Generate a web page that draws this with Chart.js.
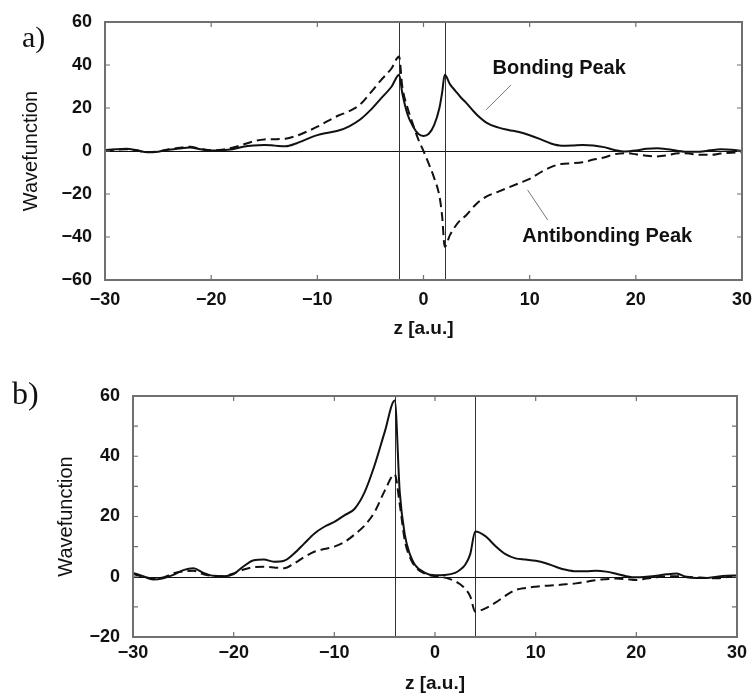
<!DOCTYPE html>
<html>
<head>
<meta charset="utf-8">
<script src="https://cdn.jsdelivr.net/npm/chart.js@4.4.0/dist/chart.umd.min.js"></script>
<style>
  html, body { margin: 0; padding: 0; background: #fff; overflow: hidden; }
  #wrap { position: relative; width: 754px; height: 693px; }
  canvas { position: absolute; left: 0; }
  .tag { position: absolute; font-family: "Liberation Serif", "Times New Roman", serif; color: #111; line-height: 1; }
</style>
</head>
<body>
<div id="wrap">
  <canvas id="chartA" width="754" height="345" style="top:0"></canvas>
  <canvas id="chartB" width="754" height="350" style="top:345px"></canvas>
  <div class="tag" style="left:22px;top:22px;font-size:30px">a)</div>
  <div class="tag" style="left:12px;top:377px;font-size:32px">b)</div>
</div>
<script>
// panel a) - z grid and the two wavefunctions
const zA = [-30, -29, -28, -27, -26, -25, -24, -23, -22, -21, -20, -19, -18, -17, -16, -15, -14, -13, -12, -11,
  -10, -9, -8, -7, -6, -5, -4, -3, -2.3, -2, -1.5, -1, -0.5, 0, 0.5, 1, 1.5, 1.75, 2, 2.5, 3, 3.5, 4, 5, 6, 7, 8, 9,
  10, 11, 12, 13, 14, 15, 16, 17, 18, 19, 20, 21, 22, 23, 24, 25, 26, 27, 28, 29, 30];
const bondA = [0.5, 0.8, 1.0, 0.3, -0.6, -0.3, 0.6, 1.2, 1.6, 0.8, 0.2, 0.3, 0.8, 2.0, 2.6, 2.8, 2.5, 2.2, 3.5, 5.5,
  7.4, 8.5, 9.5, 11.5, 14.5, 19, 24.5, 30, 35.5, 27, 17, 11.5, 8, 7, 8, 12, 20, 27, 35.5, 31, 28, 25, 22.5, 17, 13, 11, 9.8, 8.8,
  7.3, 5.5, 3.5, 2.5, 2.6, 2.8, 2.6, 1.8, 0.5, -0.2, 0.2, 1.0, 1.3, 0.8, 0, -0.4, -0.3, 0.3, 0.8, 0.6, 0];
const antiA = [0.3, 0.6, 0.8, 0.2, -0.5, -0.2, 0.8, 1.5, 2.0, 1.0, 0.3, 0.6, 1.5, 3.0, 4.5, 5.4, 5.5, 5.7, 7.0, 9.0,
  11.3, 14, 16.5, 18.5, 21.5, 27, 33, 38.5, 44, 30, 20, 12.5, 5.5, 0, -6, -12.5, -21, -30, -44.5, -39, -35, -32, -30, -24.5, -21, -19, -17, -15,
  -13, -10, -7.5, -6, -5.7, -5.2, -4, -3, -1.5, -1, -1.5, -2.2, -2.5, -2, -1, -1.2, -1.8, -1.8, -1.2, -0.8, -0.5];
const nucleiA = [-2.3, 2.0];

// panel b)
const zB = [-30, -29, -28, -27, -26, -25, -24, -23, -22, -21, -20, -19, -18, -17, -16, -15, -14, -13, -12, -11,
  -10, -9, -8, -7, -6, -5, -4, -3.5, -3, -2.5, -2, -1, 0, 1, 2, 2.5, 3, 3.5, 4, 5, 6, 7, 8, 9,
  10, 11, 12, 13, 14, 15, 16, 17, 18, 19, 20, 21, 22, 23, 24, 25, 26, 27, 28, 29, 30];
const bondB = [1.3, 0.2, -0.9, -0.5, 0.6, 2.2, 2.8, 1.3, 0.3, 0.2, 0.9, 3.5, 5.5, 5.7, 5.0, 5.3, 7.7, 11, 14.3, 16.6,
  18.2, 20.4, 22.5, 28, 37, 48, 58.5, 28, 14, 7.5, 4, 1.3, 0.5, 0.6, 1.3, 2.3, 4, 7.5, 15, 13.5, 10.2, 7.5, 6.1, 5.7,
  5.3, 4.5, 3.3, 2.3, 1.8, 1.8, 2.0, 1.7, 1.0, 0.2, -0.2, 0, 0.3, 0.8, 1.1, -0.2, -0.4, -0.4, 0, 0.3, 0.4];
const antiB = [0.9, 0, -0.6, -0.2, 1.1, 1.8, 2.0, 0.8, 0.3, 0.2, 1.1, 2.4, 3.2, 3.3, 3.1, 2.8, 4.4, 6.5, 8.3, 9.2,
  10, 11.5, 14, 17, 21.5, 28.5, 34, 24, 12, 6.5, 3.5, 1.0, 0.2, -0.3, -1.5, -2.5, -4, -6.5, -11.6, -10.5, -8.6, -6.3, -4.4, -3.7,
  -3.3, -3.0, -2.8, -2.5, -2.2, -1.7, -1.1, -0.8, -0.6, -0.8, -1.1, -0.6, -0.2, 0.1, 0.2, 0, -0.2, -0.4, -0.5, -0.1, 0.4];
const nucleiB = [-4, 4];

// labels with leader lines (data units)
const notesA = [
  { text: 'Bonding Peak', at: [6.5, 38.6], line: [[8.24, 30.7], [5.88, 19.1]] },
  { text: 'Antibonding Peak', at: [9.3, -39.8], line: [[9.8, -18.1], [11.7, -32.1]] }
];

Chart.defaults.font.family = '"Liberation Sans", Arial, sans-serif';
Chart.defaults.color = '#111';

const fmt = v => v < 0 ? '\u2212' + Math.abs(v) : String(v);
const toPts = (xs, ys) => xs.map((x, i) => ({ x, y: ys[i] }));

const decor = {
  id: 'decor',
  beforeDatasetsDraw(chart, args, o) {
    const { ctx, chartArea: a, scales: { x, y } } = chart;
    ctx.save();
    ctx.strokeStyle = '#111';
    ctx.lineWidth = 1.2;
    const y0 = Math.round(y.getPixelForValue(0)) + 0.5;
    ctx.beginPath(); ctx.moveTo(a.left, y0); ctx.lineTo(a.right, y0); ctx.stroke();
    ctx.lineWidth = 1;
    ctx.strokeStyle = '#333';
    o.nuclei.forEach(z => {
      const px = Math.round(x.getPixelForValue(z)) + 0.5;
      ctx.beginPath(); ctx.moveTo(px, a.top); ctx.lineTo(px, a.bottom); ctx.stroke();
    });
    ctx.restore();
  },
  afterDraw(chart, args, o) {
    const { ctx, chartArea: a, scales: { x, y } } = chart;
    ctx.save();
    // frame
    ctx.strokeStyle = '#707070';
    ctx.lineWidth = 2;
    ctx.strokeRect(a.left, a.top, a.right - a.left, a.bottom - a.top);
    // inner ticks on all four sides
    ctx.lineWidth = 1.2;
    ctx.beginPath();
    for (let v = x.min + o.xStep; v < x.max; v += o.xStep) {
      const px = x.getPixelForValue(v);
      ctx.moveTo(px, a.bottom); ctx.lineTo(px, a.bottom - 5);
      ctx.moveTo(px, a.top); ctx.lineTo(px, a.top + 5);
    }
    for (let v = y.min + o.yStep; v < y.max; v += o.yStep) {
      const py = y.getPixelForValue(v);
      ctx.moveTo(a.left, py); ctx.lineTo(a.left + 5, py);
      ctx.moveTo(a.right, py); ctx.lineTo(a.right - 5, py);
    }
    ctx.stroke();
    // annotations
    (o.notes || []).forEach(n => {
      ctx.strokeStyle = '#777';
      ctx.lineWidth = 1;
      ctx.beginPath();
      ctx.moveTo(x.getPixelForValue(n.line[0][0]), y.getPixelForValue(n.line[0][1]));
      ctx.lineTo(x.getPixelForValue(n.line[1][0]), y.getPixelForValue(n.line[1][1]));
      ctx.stroke();
      ctx.fillStyle = '#111';
      ctx.font = 'bold 20px "Liberation Sans", Arial, sans-serif';
      ctx.textAlign = 'left';
      ctx.textBaseline = 'middle';
      ctx.fillText(n.text, x.getPixelForValue(n.at[0]), y.getPixelForValue(n.at[1]));
    });
    ctx.restore();
  }
};

function makeChart(id, zs, bond, anti, p) {
  return new Chart(document.getElementById(id), {
    type: 'line',
    data: {
      datasets: [
        { data: toPts(zs, bond), borderColor: '#111', borderWidth: 2 },
        { data: toPts(zs, anti), borderColor: '#111', borderWidth: 2, borderDash: [9, 5] }
      ]
    },
    options: {
      responsive: false,
      animation: false,
      layout: { padding: { left: 0, right: p.right, top: p.top, bottom: 0 } },
      elements: { point: { radius: 0 }, line: { cubicInterpolationMode: 'monotone', fill: false } },
      scales: {
        x: {
          type: 'linear', min: -30, max: 30,
          grid: { display: false, drawTicks: false },
          border: { display: false },
          ticks: { stepSize: 10, padding: p.xTickPad, font: { size: 18, weight: 'bold' }, callback: fmt, maxRotation: 0, autoSkip: false },
          title: { display: true, text: 'z [a.u.]', font: { size: 19, weight: 'bold' }, padding: { top: 0, bottom: p.xTitlePad } },
          afterFit(s) { s.height = p.xHeight; s.paddingLeft = 0; s.paddingRight = 0; }
        },
        y: {
          min: p.yMin, max: p.yMax,
          grid: { display: false, drawTicks: false },
          border: { display: false },
          ticks: { stepSize: 20, padding: 13, font: { size: 18, weight: 'bold' }, callback: fmt },
          title: { display: true, text: 'Wavefunction', font: { size: 20 }, padding: { top: p.yTitlePad, bottom: 0 } },
          afterFit(s) { s.width = p.yWidth; s.paddingTop = 0; s.paddingBottom = 0; }
        }
      },
      plugins: {
        legend: { display: false },
        tooltip: { enabled: false },
        decor: { nuclei: p.nuclei, xStep: 10, yStep: p.yStep, notes: p.notes }
      }
    },
    plugins: [decor]
  });
}

makeChart('chartA', zA, bondA, antiA, {
  right: 12, top: 22, xHeight: 65, yWidth: 105, xTickPad: 9, xTitlePad: 5, yTitlePad: 19,
  yMin: -60, yMax: 60, yStep: 20, nuclei: nucleiA, notes: notesA
});
makeChart('chartB', zB, bondB, antiB, {
  right: 17, top: 51, xHeight: 58, yWidth: 133, xTickPad: 5, xTitlePad: 0, yTitlePad: 54,
  yMin: -20, yMax: 60, yStep: 10, nuclei: nucleiB, notes: []
});
</script>
</body>
</html>
